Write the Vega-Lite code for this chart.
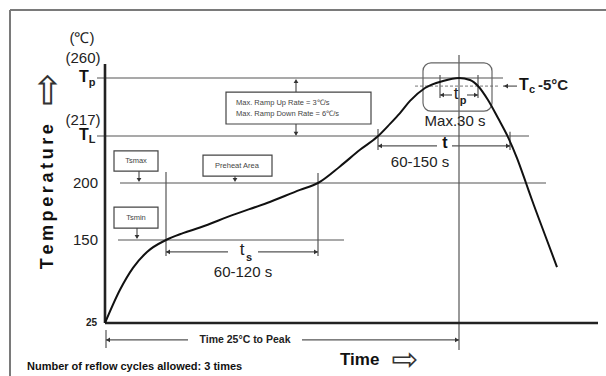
{
"$schema": "https://vega.github.io/schema/vega-lite/v6.json",
"width": 606, "height": 376, "autosize": "none", "padding": 0,
"background": "white",
"config": {"view": {"stroke": null}, "text": {"font": "Liberation Sans", "baseline": "middle"}},
"encoding": {
 "x": {"field": "t", "type": "quantitative", "scale": {"domain": [-105, 501], "nice": false, "zero": false}, "axis": null},
 "y": {"field": "T", "type": "quantitative", "scale": {"domain": [-55, 25, 150, 200, 217, 260, 318], "range": [376, 323, 240, 183, 136, 78, 0], "nice": false, "zero": false}, "axis": null}
},
"layer": [
 {"data": {"values": [
   {"t": -95, "t2": 501, "T": 310.6, "T2": 310.6},
   {"t": -95, "t2": -95, "T": 310.6, "T2": -55}]},
  "mark": {"type": "rule", "stroke": "#7a7a7a", "strokeWidth": 2},
  "encoding": {"x2": {"field": "t2"}, "y2": {"field": "T2"}}},
 {"data": {"values": [
   {"t": -8, "t2": 398, "T": 260, "T2": 260},
   {"t": -8, "t2": 424, "T": 217, "T2": 217},
   {"t": 15, "t2": 441, "T": 200, "T2": 200},
   {"t": 13, "t2": 239, "T": 150, "T2": 150},
   {"t": 61, "t2": 123, "T": 132, "T2": 132},
   {"t": 153, "t2": 213, "T": 132, "T2": 132},
   {"t": 273, "t2": 332, "T": 213.4, "T2": 213.4},
   {"t": 347, "t2": 405, "T": 213.4, "T2": 213.4},
   {"t": 335, "t2": 347, "T": 247.4, "T2": 247.4},
   {"t": 362, "t2": 373, "T": 247.4, "T2": 247.4},
   {"t": 1, "t2": 83, "T": -0.6, "T2": -0.6},
   {"t": 197, "t2": 354, "T": -0.6, "T2": -0.6},
   {"t": 398, "t2": 412, "T": 254, "T2": 254},
   {"t": 61, "t2": 61, "T": 204, "T2": 126},
   {"t": 213, "t2": 213, "T": 203.6, "T2": 126},
   {"t": 273, "t2": 273, "T": 222.2, "T2": 211.9},
   {"t": 405, "t2": 405, "T": 220.2, "T2": 211.9},
   {"t": 354, "t2": 354, "T": 277.1, "T2": -15.7},
   {"t": 335, "t2": 335, "T": 262.2, "T2": 245.2},
   {"t": 373, "t2": 373, "T": 262.2, "T2": 245.2},
   {"t": 1, "t2": 1, "T": 14.5, "T2": -12.6},
   {"t": 191, "t2": 191, "T": 249.6, "T2": 258},
   {"t": 191, "t2": 191, "T": 225.9, "T2": 218},
   {"t": 34, "t2": 34, "T": 204.3, "T2": 201},
   {"t": 32, "t2": 32, "T": 160.5, "T2": 152},
   {"t": 130, "t2": 130, "T": 202.5, "T2": 201}]},
  "mark": {"type": "rule", "stroke": "#555555", "strokeWidth": 1.2},
  "encoding": {"x2": {"field": "t2"}, "y2": {"field": "T2"}}},
 {"data": {"values": [{"t": 310, "t2": 395, "T": 254, "T2": 254}]},
  "mark": {"type": "rule", "stroke": "#777777", "strokeWidth": 1, "strokeDash": [3, 2]},
  "encoding": {"x2": {"field": "t2"}, "y2": {"field": "T2"}}},
 {"data": {"values": [
   {"t": 121, "t2": 266, "T": 249.6, "T2": 225.9},
   {"t": 98, "t2": 167, "T": 210.1, "T2": 202.5},
   {"t": 9, "t2": 53, "T": 211.6, "T2": 204.3},
   {"t": 9, "t2": 53, "T": 178.9, "T2": 160.5}]},
  "mark": {"type": "rect", "fill": "white", "stroke": "#444444", "strokeWidth": 1.2},
  "encoding": {"x2": {"field": "t2"}, "y2": {"field": "T2"}}},
 {"data": {"values": [{"t": 318, "t2": 387, "T": 271.2, "T2": 235.5}]},
  "mark": {"type": "rect", "fill": null, "stroke": "#666666", "strokeWidth": 1.2, "cornerRadius": 8},
  "encoding": {"x2": {"field": "t2"}, "y2": {"field": "T2"}}},
 {"data": {"values": [
   {"t": 0, "t2": 0, "T": 270.4, "T2": 25},
   {"t": 0, "t2": 493, "T": 25, "T2": 25}]},
  "mark": {"type": "rule", "stroke": "#222222", "strokeWidth": 2.6},
  "encoding": {"x2": {"field": "t2"}, "y2": {"field": "T2"}}},
 {"data": {"values": [
   {"t": 63, "T": 132, "dir": "left"}, {"t": 211, "T": 132, "dir": "right"},
   {"t": 275, "T": 213.4, "dir": "left"}, {"t": 403, "T": 213.4, "dir": "right"},
   {"t": 337, "T": 247.4, "dir": "left"}, {"t": 371, "T": 247.4, "dir": "right"},
   {"t": 3, "T": -0.6, "dir": "left"}, {"t": 352, "T": -0.6, "dir": "right"},
   {"t": 401, "T": 254, "dir": "left"},
   {"t": 191, "T": 257.8, "dir": "up"}, {"t": 191, "T": 218.7, "dir": "down"},
   {"t": 34, "T": 201.1, "dir": "down"}, {"t": 32, "T": 152.6, "dir": "down"},
   {"t": 130, "T": 201.1, "dir": "down"}]},
  "mark": {"type": "point", "filled": true, "color": "#333333", "size": 22, "opacity": 1},
  "encoding": {"shape": {"field": "dir", "type": "nominal", "scale": {"domain": ["left", "right", "up", "down"], "range": ["triangle-left", "triangle-right", "triangle-up", "triangle-down"]}, "legend": null}}},
 {"data": {"values": [
   {"t": 0, "T": 25}, {"t": 15, "T": 75}, {"t": 28, "T": 108}, {"t": 42, "T": 132},
   {"t": 61, "T": 150}, {"t": 78, "T": 156}, {"t": 95, "T": 161}, {"t": 128, "T": 172},
   {"t": 162, "T": 182.5}, {"t": 195, "T": 194}, {"t": 213, "T": 200}, {"t": 235, "T": 206},
   {"t": 255, "T": 212}, {"t": 272, "T": 216.6}, {"t": 285, "T": 226}, {"t": 295, "T": 234},
   {"t": 305, "T": 243}, {"t": 320, "T": 252.6}, {"t": 338, "T": 257.8}, {"t": 354, "T": 260},
   {"t": 365, "T": 258.5}, {"t": 373, "T": 254.1}, {"t": 383, "T": 243.7}, {"t": 393, "T": 230.3},
   {"t": 403, "T": 216.6}, {"t": 412, "T": 209}, {"t": 421, "T": 200}, {"t": 427, "T": 185.1},
   {"t": 440, "T": 154.4}, {"t": 452, "T": 109.3}]},
  "mark": {"type": "line", "color": "#111111", "strokeWidth": 2, "interpolate": "monotone"},
  "encoding": {"order": {"field": "t", "type": "quantitative"}}},
 {"data": {"values": [
   {"t": -23, "T": 289.7, "label": "(℃)"},
   {"t": -22, "T": 274.9, "label": "(260)"},
   {"t": -22, "T": 228.9, "label": "(217)"},
   {"t": 315, "T": 207.6, "label": "60-150 s"},
   {"t": 350, "T": 228.1, "label": "Max.30 s"},
   {"t": 138, "T": 101.8, "label": "60-120 s"}]},
  "mark": {"type": "text", "fontSize": 15, "color": "#222222", "align": "center"},
  "encoding": {"text": {"field": "label"}}},
 {"data": {"values": [
   {"t": -7, "T": 200, "label": "200"},
   {"t": -7, "T": 150, "label": "150"}]},
  "mark": {"type": "text", "fontSize": 15, "color": "#222222", "align": "right"},
  "encoding": {"text": {"field": "label"}}},
 {"data": {"values": [
   {"t": -21, "T": 260.7, "label": "T"},
   {"t": -21, "T": 217.4, "label": "T"},
   {"t": 340, "T": 214.5, "label": "t"},
   {"t": 419, "T": 254.8, "label": "T"}]},
  "mark": {"type": "text", "fontSize": 16, "fontWeight": "bold", "color": "#111111", "align": "center"},
  "encoding": {"text": {"field": "label"}}},
 {"data": {"values": [
   {"t": 137, "T": 135, "label": "t"},
   {"t": 351, "T": 248.5, "label": "t"}]},
  "mark": {"type": "text", "fontSize": 17, "color": "#222222", "align": "center"},
  "encoding": {"text": {"field": "label"}}},
 {"data": {"values": [
   {"t": -13, "T": 256.3, "label": "p"},
   {"t": -13, "T": 215.6, "label": "L"},
   {"t": 144, "T": 122.9, "label": "s"},
   {"t": 358, "T": 243.2, "label": "p"},
   {"t": 427, "T": 251.1, "label": "c"}]},
  "mark": {"type": "text", "fontSize": 11, "fontWeight": "bold", "color": "#222222", "align": "center"},
  "encoding": {"text": {"field": "label"}}},
 {"data": {"values": [{"t": 433, "T": 254.8, "label": "-5°C"}]},
  "mark": {"type": "text", "fontSize": 15, "fontWeight": "bold", "color": "#222222", "align": "left"},
  "encoding": {"text": {"field": "label"}}},
 {"data": {"values": [
   {"t": 131, "T": 241.5, "label": "Max. Ramp Up Rate = 3℃/s"},
   {"t": 131, "T": 233.3, "label": "Max. Ramp Down Rate = 6℃/s"}]},
  "mark": {"type": "text", "fontSize": 7.5, "color": "#444444", "align": "left"},
  "encoding": {"text": {"field": "label"}}},
 {"data": {"values": [
   {"t": 132, "T": 206.3, "label": "Preheat Area"},
   {"t": 31, "T": 208, "label": "Tsmax"},
   {"t": 31, "T": 169.7, "label": "Tsmin"}]},
  "mark": {"type": "text", "fontSize": 7.5, "color": "#444444", "align": "center"},
  "encoding": {"text": {"field": "label"}}},
 {"data": {"values": [{"t": -8, "T": 25, "label": "25"}]},
  "mark": {"type": "text", "fontSize": 10, "fontWeight": "bold", "color": "#222222", "align": "right"},
  "encoding": {"text": {"field": "label"}}},
 {"data": {"values": [{"t": -57, "T": 188, "label": "T\u2009e\u2009m\u2009p\u2009e\u2009r\u2009a\u2009t\u2009u\u2009r\u2009e"}]},
  "mark": {"type": "text", "fontSize": 18, "fontWeight": "bold", "color": "#111111", "align": "center", "angle": 270},
  "encoding": {"text": {"field": "label"}}},
 {"data": {"values": [{"t": -57, "T": 251.8, "label": "⇨"}]},
  "mark": {"type": "text", "fontSize": 40, "color": "#333333", "align": "center", "font": "DejaVu Sans", "angle": 270},
  "encoding": {"text": {"field": "label"}}},
 {"data": {"values": [{"t": 235, "T": -30.7, "label": "Time"}]},
  "mark": {"type": "text", "fontSize": 17, "fontWeight": "bold", "color": "#111111", "align": "left"},
  "encoding": {"text": {"field": "label"}}},
 {"data": {"values": [{"t": 300, "T": -30.7, "label": "⇨"}]},
  "mark": {"type": "text", "fontSize": 32, "color": "#333333", "align": "center", "font": "DejaVu Sans"},
  "encoding": {"text": {"field": "label"}}},
 {"data": {"values": [{"t": 140, "T": -0.6, "label": "Time 25°C to Peak"}]},
  "mark": {"type": "text", "fontSize": 10.5, "fontWeight": "bold", "color": "#222222", "align": "center"},
  "encoding": {"text": {"field": "label"}}},
 {"data": {"values": [{"t": -78, "T": -41.3, "label": "Number of reflow cycles allowed: 3 times"}]},
  "mark": {"type": "text", "fontSize": 11, "fontWeight": "bold", "color": "#111111", "align": "left"},
  "encoding": {"text": {"field": "label"}}}
]
}
